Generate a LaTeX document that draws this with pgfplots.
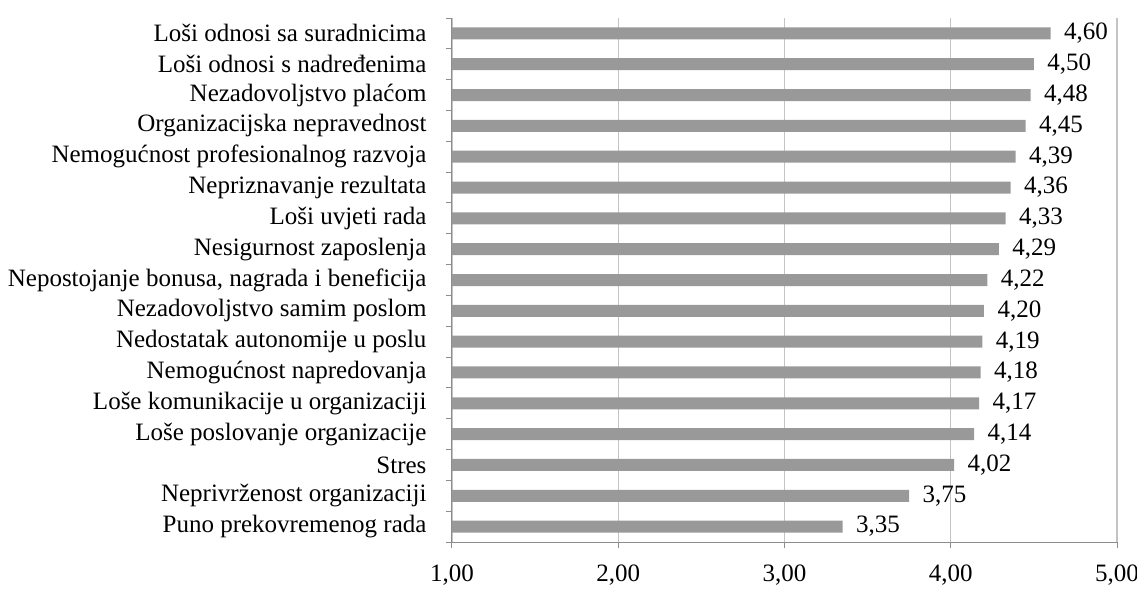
\documentclass[border=0pt]{standalone}
\usepackage{fontspec}
\setmainfont{Liberation Serif}
\usepackage{pgfplots}
\pgfplotsset{compat=1.18}
\definecolor{barg}{HTML}{999999}
\definecolor{gridg}{HTML}{C4C4C4}
\definecolor{axg}{HTML}{8C8C8C}
\begin{document}
\begin{tikzpicture}
\path[use as bounding box] (-452pt,-48pt) rectangle (685pt,542pt);
\begin{axis}[
  at={(0pt,0pt)}, anchor=south west,
  scale only axis, width=665pt, height=524pt,
  xbar, bar width=12pt,
  xmin=1, xmax=5, xtick={1,2,3,4,5},
  ymin=-0.5, ymax=16.5, y dir=reverse,
  ytick={0,...,16},
  yticklabels={Loši odnosi sa suradnicima, Loši odnosi s nadređenima, Nezadovoljstvo plaćom, Organizacijska nepravednost, Nemogućnost profesionalnog razvoja, Nepriznavanje rezultata, Loši uvjeti rada, Nesigurnost zaposlenja, {Nepostojanje bonusa, nagrada i beneficija}, Nezadovoljstvo samim poslom, Nedostatak autonomije u poslu, Nemogućnost napredovanja, Loše komunikacije u organizaciji, Loše poslovanje organizacije, Stres, Neprivrženost organizaciji, Puno prekovremenog rada},
  minor ytick={-0.5,0.5,...,16.5},
  axis x line*=bottom, axis y line*=left,
  axis line style={axg, line width=1pt, -},
  tick align=outside,
  major tick length=6pt, minor tick length=6pt,
  ytick style={draw=none}, minor y tick style={draw=axg, line width=1pt},
  xtick style={draw=axg, line width=1pt},
  xmajorgrids, grid style={gridg, line width=1.2pt},
  tick label style={font=\fontsize{25}{28}\selectfont},
  yticklabel style={xshift=-16pt},
  xticklabel style={yshift=-13pt, /pgf/number format/.cd, fixed, fixed zerofill, precision=2, use comma, assume math mode=true},
  nodes near coords,
  nodes near coords style={font=\fontsize{25}{28}\selectfont, black, xshift=10pt, /pgf/number format/.cd, fixed, fixed zerofill, precision=2, use comma, assume math mode=true},
  clip=false,
]
\addplot[fill=barg, draw=none] coordinates {
(4.60,0) (4.50,1) (4.48,2) (4.45,3) (4.39,4) (4.36,5) (4.33,6) (4.29,7) (4.22,8) (4.20,9) (4.19,10) (4.18,11) (4.17,12) (4.14,13) (4.02,14) (3.75,15) (3.35,16)};
\end{axis}
\end{tikzpicture}
\end{document}
